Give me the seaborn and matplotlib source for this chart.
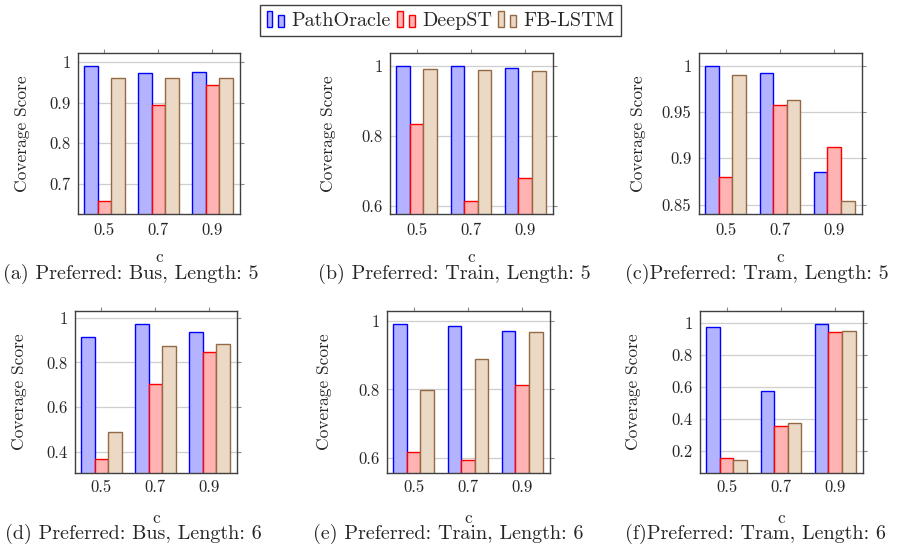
import matplotlib
matplotlib.use("Agg")
import matplotlib.pyplot as plt
import seaborn as sns
import pandas as pd
import numpy as np
from matplotlib.patches import Rectangle, Patch
from matplotlib.ticker import FuncFormatter

methods = ["PathOracle", "DeepST", "FB-LSTM"]
c_levels = ["0.5", "0.7", "0.9"]

# (a) Preferred: Bus, Length 5
bus5_pathoracle = [0.990, 0.972, 0.975]
bus5_deepst = [0.657, 0.893, 0.943]
bus5_fblstm = [0.960, 0.960, 0.960]
# (b) Preferred: Train, Length 5
train5_pathoracle = [1.000, 1.000, 0.995]
train5_deepst = [0.834, 0.613, 0.680]
train5_fblstm = [0.993, 0.989, 0.986]
# (c) Preferred: Tram, Length 5
tram5_pathoracle = [0.999, 0.992, 0.885]
tram5_deepst = [0.880, 0.958, 0.912]
tram5_fblstm = [0.990, 0.963, 0.854]
# (d) Preferred: Bus, Length 6
bus6_pathoracle = [0.915, 0.970, 0.936]
bus6_deepst = [0.366, 0.702, 0.848]
bus6_fblstm = [0.489, 0.875, 0.884]
# (e) Preferred: Train, Length 6
train6_pathoracle = [0.991, 0.985, 0.970]
train6_deepst = [0.618, 0.594, 0.812]
train6_fblstm = [0.798, 0.890, 0.968]
# (f) Preferred: Tram, Length 6
tram6_pathoracle = [0.979, 0.577, 0.994]
tram6_deepst = [0.152, 0.357, 0.946]
tram6_fblstm = [0.143, 0.374, 0.952]

captions = [
    "(a) Preferred: Bus, Length: 5",
    "(b) Preferred: Train, Length: 5",
    "(c)Preferred: Tram, Length: 5",
    "(d) Preferred: Bus, Length: 6",
    "(e) Preferred: Train, Length: 6",
    "(f)Preferred: Tram, Length: 6",
]
y_ticks = [
    [0.7, 0.8, 0.9, 1.0],
    [0.6, 0.8, 1.0],
    [0.85, 0.9, 0.95, 1.0],
    [0.4, 0.6, 0.8, 1.0],
    [0.6, 0.8, 1.0],
    [0.2, 0.4, 0.6, 0.8, 1.0],
]
y_limits = [
    (0.626, 1.022),
    (0.576, 1.038),
    (0.840, 1.0135),
    (0.305, 1.030),
    (0.555, 1.030),
    (0.060, 1.077),
]

panel_series = [
    (bus5_pathoracle, bus5_deepst, bus5_fblstm),
    (train5_pathoracle, train5_deepst, train5_fblstm),
    (tram5_pathoracle, tram5_deepst, tram5_fblstm),
    (bus6_pathoracle, bus6_deepst, bus6_fblstm),
    (train6_pathoracle, train6_deepst, train6_fblstm),
    (tram6_pathoracle, tram6_deepst, tram6_fblstm),
]

fill_colors = {"PathOracle": "#b3b3ff", "DeepST": "#ffb3b3", "FB-LSTM": "#ebd8c5"}
edge_colors = {"PathOracle": "#0000ff", "DeepST": "#ff0000", "FB-LSTM": "#936a44"}

sns.set_style("white")
plt.rcParams["font.family"] = ["cmr10", "DejaVu Serif"]
plt.rcParams["axes.formatter.use_mathtext"] = True
plt.rcParams["mathtext.fontset"] = "cm"

W, H = 901, 550
fig = plt.figure(figsize=(W / 100, H / 100), dpi=100)

# layout in pixels: left, top, right, bottom
axes_px = [(78, 53, 240, 214), (390, 53, 553, 214), (699, 53, 862, 214),
           (75, 311, 237, 473), (387, 311, 550, 473), (700, 311, 863, 473)]
ylabel_off = [56, 62, 61, 56, 63, 67]
xlabel_y = [257, 257, 257, 518, 518, 518]
tick_pad = [3.6, 3.6, 3.6, 1.8, 1.8, 1.8]
caption_xy = [(3, 274), (318, 274), (625, 274), (5, 534), (313, 534), (625, 534)]

tick_fs = 12
label_fs = 12.5
cap_fs = 14.5

for i in range(6):
    l, t, r, b = axes_px[i]
    ax = fig.add_axes([l / W, 1 - b / H, (r - l) / W, (b - t) / H])
    po, ds, fb = panel_series[i]
    df = pd.DataFrame({
        "c": c_levels * 3,
        "method": np.repeat(methods, 3),
        "score": list(po) + list(ds) + list(fb),
    })
    sns.barplot(data=df, x="c", y="score", hue="method", order=c_levels,
                hue_order=methods, palette=fill_colors, saturation=1,
                width=0.75, errorbar=None, ax=ax, legend=False, linewidth=1.0)
    for cont, m in zip(ax.containers, methods):
        for p in cont:
            p.set_edgecolor(edge_colors[m])
            p.set_linewidth(1.0)
    ax.set_xlim(-0.49, 2.51)
    ax.set_ylim(*y_limits[i])
    ax.set_yticks(y_ticks[i])
    ax.yaxis.set_major_formatter(FuncFormatter(lambda v, pos: f"{v:g}"))
    ax.yaxis.grid(True, color="#cfcfcf", lw=0.9)
    ax.set_axisbelow(True)
    for s in ax.spines.values():
        s.set_color("#404040")
        s.set_linewidth(1.0)
    ax.tick_params(axis="both", direction="out", length=3, width=0.8,
                   color="#8a8a8a", labelsize=tick_fs, top=True, right=True,
                   labeltop=False, labelright=False)
    ax.tick_params(axis="x", pad=tick_pad[i])
    ax.tick_params(axis="y", pad=2.5)
    ax.set_xlabel("c", fontsize=label_fs)
    ax.set_ylabel("Coverage Score", fontsize=label_fs)
    ax.xaxis.label.set_va("center")
    ax.yaxis.label.set_va("center")
    ax.xaxis.set_label_coords(0.5, -(xlabel_y[i] - b) / (b - t))
    ax.yaxis.set_label_coords(-ylabel_off[i] / (r - l), 0.5)
    cx, cy = caption_xy[i]
    fig.text(cx / W, 1 - cy / H, captions[i], fontsize=cap_fs, ha="left", va="center")


class TwoBarHandler:
    def legend_artist(self, legend, orig_handle, fontsize, handlebox):
        x0, y0 = handlebox.xdescent, handlebox.ydescent
        w, h = handlebox.width, handlebox.height
        fc = orig_handle.get_facecolor()
        ec = orig_handle.get_edgecolor()
        bw = w * 0.3
        r1 = Rectangle((x0, y0 - 0.1 * h), bw, h * 1.15, facecolor=fc, edgecolor=ec,
                       lw=1.0, transform=handlebox.get_transform())
        r2 = Rectangle((x0 + w * 0.62, y0 - 0.1 * h), bw, h * 0.85, facecolor=fc,
                       edgecolor=ec, lw=1.0, transform=handlebox.get_transform())
        handlebox.add_artist(r1)
        handlebox.add_artist(r2)
        return r1


handles = [Patch(facecolor=fill_colors[m], edgecolor=edge_colors[m]) for m in methods]
leg = fig.legend(handles, methods, loc="center", bbox_to_anchor=(440.5 / W, 1 - 20.5 / H),
                 ncol=3, fontsize=14.5, frameon=True, fancybox=False, framealpha=1,
                 edgecolor="#404040", handlelength=0.95, handletextpad=0.3,
                 columnspacing=0.3, borderpad=0.3, borderaxespad=0,
                 handler_map={Patch: TwoBarHandler()})
leg.get_frame().set_linewidth(1.0)

fig.savefig("out.png", dpi=100)
